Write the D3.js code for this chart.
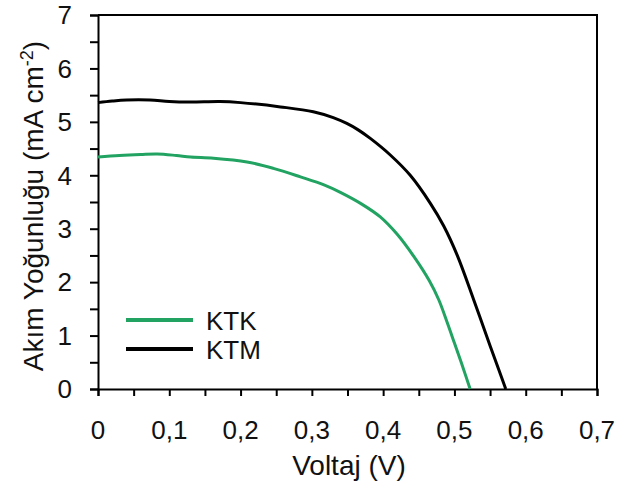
<!DOCTYPE html>
<html>
<head>
<meta charset="utf-8">
<script src="https://cdn.jsdelivr.net/npm/d3@7"></script>
<style>
  html, body { margin: 0; padding: 0; background: #fff; }
  svg { display: block; }
  text { font-family: "Liberation Sans", Arial, sans-serif; fill: #111; }
</style>
</head>
<body>
<svg id="chart" width="619" height="490"></svg>
<script>
// J–V curves: voltage (V) vs current density (mA cm-2)
const ktkVoltage = [0, 0.03, 0.06, 0.083, 0.11, 0.13, 0.162, 0.209, 0.246, 0.284, 0.317, 0.34, 0.37, 0.396, 0.42, 0.4425, 0.465, 0.478, 0.49, 0.5, 0.511, 0.522];
const ktkCurrent = [4.34, 4.37, 4.39, 4.40, 4.37, 4.34, 4.32, 4.25, 4.13, 3.97, 3.82, 3.68, 3.46, 3.22, 2.89, 2.49, 2.02, 1.67, 1.24, 0.86, 0.44, 0];

const ktmVoltage = [0, 0.02, 0.04, 0.073, 0.1, 0.13, 0.171, 0.2, 0.256, 0.302, 0.33, 0.349, 0.365, 0.382, 0.41, 0.438, 0.466, 0.485, 0.504, 0.527, 0.55, 0.562, 0.572];
const ktmCurrent = [5.36, 5.39, 5.41, 5.41, 5.38, 5.37, 5.38, 5.36, 5.28, 5.19, 5.08, 4.97, 4.85, 4.69, 4.38, 4.00, 3.48, 3.05, 2.50, 1.67, 0.81, 0.37, 0];

const xTicks = [0, 0.1, 0.2, 0.3, 0.4, 0.5, 0.6, 0.7];
const yTicks = [0, 1, 2, 3, 4, 5, 6, 7];
const seriesNames = ["KTK", "KTM"];
const seriesColors = ["#22a362", "#000000"];

const svg = d3.select("#chart");
const plot = { left: 98, right: 597, top: 15, bottom: 389 };

const x = d3.scaleLinear().domain([0, 0.7]).range([plot.left, plot.right]);
const y = d3.scaleLinear().domain([0, 7]).range([plot.bottom, plot.top]);

const xLabel = v => (v === 0 ? "0" : d3.format(".1f")(v).replace(".", ","));

// frame (top and right edges)
svg.append("path")
  .attr("d", `M${plot.left},${plot.top}H${plot.right}V${plot.bottom}`)
  .attr("fill", "none").attr("stroke", "#000").attr("stroke-width", 2);

// x axis: ticks every 0.05, labels every 0.1
const xMinor = d3.range(0, 0.7001, 0.05);
const gx = svg.append("g").attr("transform", `translate(0,${plot.bottom})`);
gx.call(d3.axisBottom(x).tickValues(xMinor).tickSize(7).tickFormat(""));
gx.selectAll(".domain").attr("stroke-width", 2);
gx.selectAll(".tick line").attr("stroke-width", 2);
gx.selectAll("text.lbl").data(xTicks).enter().append("text")
  .attr("class", "lbl")
  .attr("x", d => x(d)).attr("y", 49.5)
  .attr("text-anchor", "middle")
  .style("font-size", "26px")
  .text(xLabel);

// y axis: ticks every 0.5, labels every 1
const yMinor = d3.range(0, 7.001, 0.5);
const gy = svg.append("g").attr("transform", `translate(${plot.left},0)`);
gy.call(d3.axisLeft(y).tickValues(yMinor).tickSize(8).tickFormat(""));
gy.selectAll(".domain").attr("stroke-width", 2);
gy.selectAll(".tick line").attr("stroke-width", 2);
gy.selectAll("text.lbl").data(yTicks).enter().append("text")
  .attr("class", "lbl")
  .attr("x", -26).attr("y", d => y(d) + 9.3)
  .attr("text-anchor", "end")
  .style("font-size", "26px")
  .text(d => d);

// axis titles
svg.append("text")
  .attr("x", 349).attr("y", 475)
  .attr("text-anchor", "middle")
  .style("font-size", "28px")
  .text("Voltaj (V)");

const yt = svg.append("text")
  .attr("transform", "translate(43,206) rotate(-90)")
  .attr("text-anchor", "middle")
  .style("font-size", "28px");
yt.append("tspan").text("Akım Yoğunluğu (mA cm");
yt.append("tspan").attr("dy", -10).style("font-size", "18px").text("-2");
yt.append("tspan").attr("dy", 10).text(")");

// curves
const line = d3.line().x(d => x(d[0])).y(d => y(d[1])).curve(d3.curveCatmullRom.alpha(0.5));
const series = [
  d3.zip(ktkVoltage, ktkCurrent),
  d3.zip(ktmVoltage, ktmCurrent)
];
svg.selectAll("path.curve").data(series).enter().append("path")
  .attr("class", "curve")
  .attr("d", line)
  .attr("fill", "none")
  .attr("stroke", (d, i) => seriesColors[i])
  .attr("stroke-width", 3)
  .attr("stroke-linejoin", "round");

// legend
const lg = svg.append("g").attr("transform", "translate(126,320)");
seriesNames.forEach((name, i) => {
  lg.append("line")
    .attr("x1", 0).attr("x2", 67)
    .attr("y1", i * 29).attr("y2", i * 29)
    .attr("stroke", seriesColors[i]).attr("stroke-width", 4);
  lg.append("text")
    .attr("x", 80).attr("y", i * 29 + 10)
    .style("font-size", "26px")
    .text(name);
});
</script>
</body>
</html>
